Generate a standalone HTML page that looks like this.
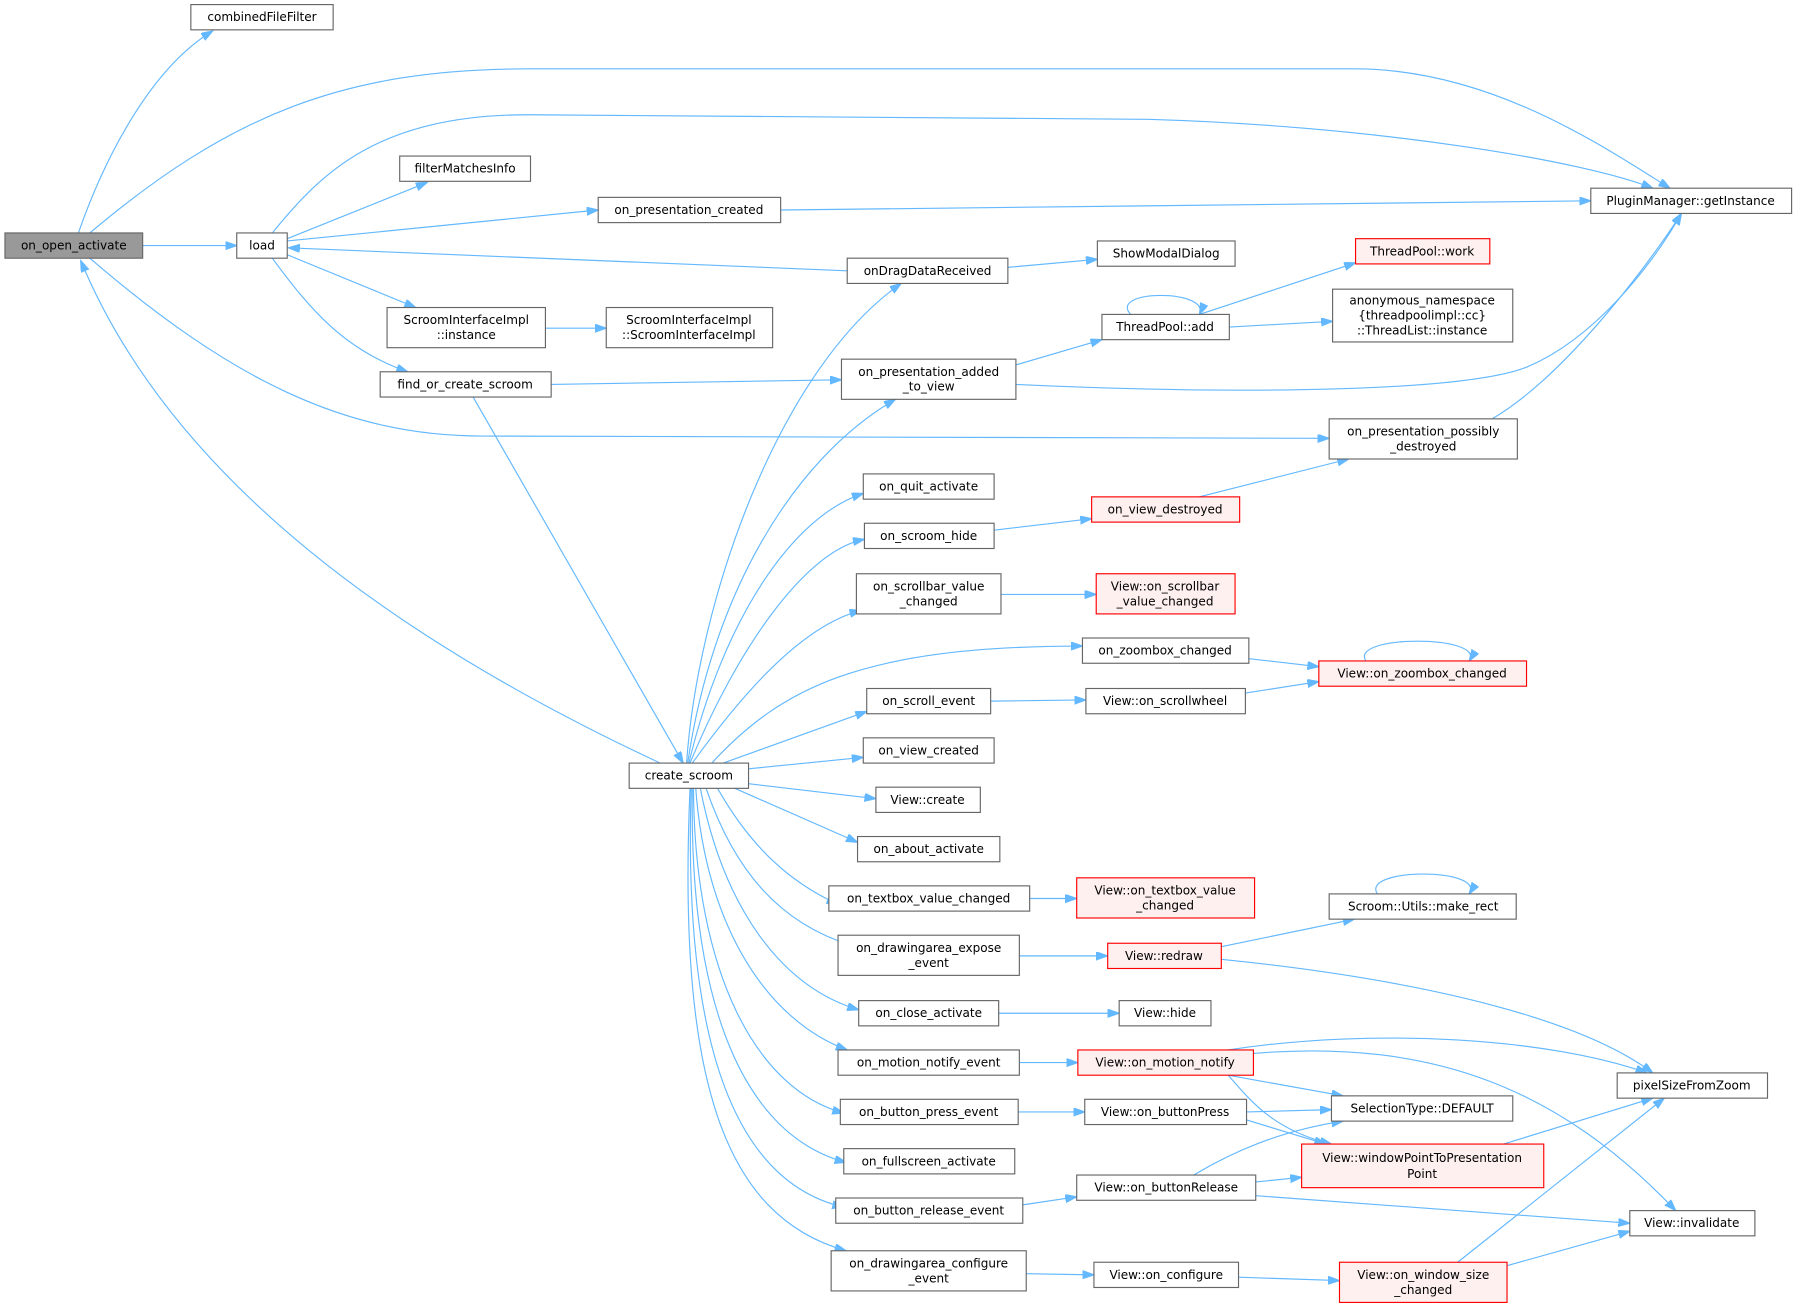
<!DOCTYPE html>
<html><head><meta charset="utf-8"><style>
html,body{margin:0;padding:0;background:#fff;}
svg{display:block;}
text{font-family:"DejaVu Sans","Liberation Sans",sans-serif;font-size:10.5px;fill:#000;text-anchor:middle;dominant-baseline:central;}
.n{fill:#fff;stroke:#666;stroke-width:1;}
.r{fill:#fff0f0;stroke:#f00;stroke-width:1;}
.g{fill:#999;stroke:#666;stroke-width:1;}
path.e{fill:none;stroke:#63b8ff;stroke-width:1;marker-end:url(#a);}
</style></head><body>
<svg width="1800" height="1307" viewBox="0 0 1568 1139" xmlns="http://www.w3.org/2000/svg">
<defs><marker id="a" markerUnits="userSpaceOnUse" markerWidth="11" markerHeight="8" refX="10" refY="3.5" orient="auto"><path d="M0,0 L10,3.5 L0,7 z" fill="#63b8ff" stroke="#63b8ff"/></marker></defs>
<!-- edges -->
<path class="e" d="M68,203 C90,140 130,60 185,27"/>
<path class="e" d="M78,203 C200,100 300,60 460,60 L1180,60 C1300,60 1400,130 1455,164"/>
<path class="e" d="M124,214 L206,214"/>
<path class="e" d="M78,225 C200,330 300,380 420,380 L1158,382"/>
<path class="e" d="M575,665 C350,560 150,420 70,227"/>
<path class="e" d="M237,203 C280,150 330,100 460,100 L1000,104 C1200,110 1380,140 1440,164"/>
<path class="e" d="M250,208 L372,159"/>
<path class="e" d="M250,210 L521,183"/>
<path class="e" d="M738,236 L251,216"/>
<path class="e" d="M250,222 L362,268"/>
<path class="e" d="M237,225 C270,270 300,305 355,324"/>
<path class="e" d="M475,286 L528,286"/>
<path class="e" d="M680,183 L1386,175"/>
<path class="e" d="M480,335 L733,331"/>
<path class="e" d="M412,346 L595,665"/>
<path class="e" d="M878,233 L956,226"/>
<path class="e" d="M885,318 L960,296"/>
<path class="e" d="M885,335 C1100,345 1280,340 1330,320 C1390,295 1440,230 1465,186"/>
<path class="e" d="M1045,274 L1181,229"/>
<path class="e" d="M985,274 C965,252 1055,252 1045,274"/>
<path class="e" d="M1071,285 L1161,280"/>
<path class="e" d="M1300,365 C1360,330 1430,240 1465,186"/>
<path class="e" d="M598,665 C608,520 680,320 785,247"/>
<path class="e" d="M599,665 C620,520 690,400 780,348"/>
<path class="e" d="M600,665 C630,540 690,450 752,430"/>
<path class="e" d="M601,665 C640,570 700,480 753,470"/>
<path class="e" d="M603,665 C650,600 700,545 750,532"/>
<path class="e" d="M620,665 C680,600 750,563 943,563"/>
<path class="e" d="M630,665 L755,620"/>
<path class="e" d="M652,670 L752,660"/>
<path class="e" d="M652,683 L763,696"/>
<path class="e" d="M640,687 L747,734"/>
<path class="e" d="M625,687 C655,740 690,770 730,788"/>
<path class="e" d="M615,687 C640,760 680,805 742,824"/>
<path class="e" d="M610,687 C630,790 680,860 748,880"/>
<path class="e" d="M606,687 C615,810 670,890 738,915"/>
<path class="e" d="M604,687 C605,850 660,950 735,970"/>
<path class="e" d="M603,687 C600,880 650,990 737,1013"/>
<path class="e" d="M602,687 C595,910 640,1030 735,1052"/>
<path class="e" d="M601,687 C590,940 630,1060 737,1090"/>
<path class="e" d="M866,462 L951,452"/>
<path class="e" d="M1045,433 L1175,400"/>
<path class="e" d="M872,518 L955,518"/>
<path class="e" d="M1088,574 L1149,581"/>
<path class="e" d="M1190,576 C1175,553 1295,553 1280,576"/>
<path class="e" d="M863,611 L946,610"/>
<path class="e" d="M1085,604 L1149,594"/>
<path class="e" d="M897,783 L938,783"/>
<path class="e" d="M888,833 L965,833"/>
<path class="e" d="M1064,825 L1180,801"/>
<path class="e" d="M1200,779 C1185,756 1295,756 1280,779"/>
<path class="e" d="M1064,836 C1250,855 1380,890 1440,935"/>
<path class="e" d="M870,883 L975,883"/>
<path class="e" d="M888,926 L939,926"/>
<path class="e" d="M1070,915 C1200,895 1350,905 1435,935"/>
<path class="e" d="M1092,918 C1250,905 1360,950 1460,1055"/>
<path class="e" d="M1070,937 L1170,955"/>
<path class="e" d="M1070,937 C1090,960 1110,985 1160,997"/>
<path class="e" d="M1086,969 L1160,967"/>
<path class="e" d="M1086,976 L1155,997"/>
<path class="e" d="M887,969 L945,969"/>
<path class="e" d="M1310,997 L1440,957"/>
<path class="e" d="M891,1050 L938,1043"/>
<path class="e" d="M1040,1024 C1080,1000 1120,985 1170,977"/>
<path class="e" d="M1094,1030 L1134,1026"/>
<path class="e" d="M1094,1042 L1420,1066"/>
<path class="e" d="M894,1110 L953,1111"/>
<path class="e" d="M1079,1113 L1167,1116"/>
<path class="e" d="M1270,1100 L1450,957"/>
<path class="e" d="M1313,1103 L1420,1073"/>
<!-- nodes -->
<rect class="g" x="4" y="203" width="120" height="22"/><text x="64" y="214">on_open_activate</text>
<rect class="n" x="166" y="4" width="124" height="22"/><text x="228" y="15">combinedFileFilter</text>
<rect class="n" x="206" y="203" width="44" height="22"/><text x="228" y="214">load</text>
<rect class="n" x="348" y="136" width="114" height="22"/><text x="405" y="147">filterMatchesInfo</text>
<rect class="n" x="521" y="172" width="159" height="22"/><text x="600" y="183">on_presentation_created</text>
<rect class="n" x="337" y="268" width="138" height="35"/><text x="406" y="279">ScroomInterfaceImpl</text><text x="406" y="292">::instance</text>
<rect class="n" x="528" y="268" width="145" height="35"/><text x="600" y="279">ScroomInterfaceImpl</text><text x="600" y="292">::ScroomInterfaceImpl</text>
<rect class="n" x="331" y="324" width="149" height="22"/><text x="405" y="335">find_or_create_scroom</text>
<rect class="n" x="1386" y="164" width="175" height="22"/><text x="1473" y="175">PluginManager::getInstance</text>
<rect class="n" x="738" y="225" width="140" height="22"/><text x="808" y="236">onDragDataReceived</text>
<rect class="n" x="956" y="210" width="120" height="22"/><text x="1016" y="221">ShowModalDialog</text>
<rect class="r" x="1181" y="208" width="117" height="22"/><text x="1239" y="219">ThreadPool::work</text>
<rect class="n" x="960" y="274" width="111" height="22"/><text x="1015" y="285">ThreadPool::add</text>
<rect class="n" x="1161" y="252" width="157" height="46"/><text x="1239" y="262">anonymous_namespace</text><text x="1239" y="275">{threadpoolimpl::cc}</text><text x="1239" y="288">::ThreadList::instance</text>
<rect class="n" x="733" y="313" width="152" height="35"/><text x="809" y="324">on_presentation_added</text><text x="809" y="337">_to_view</text>
<rect class="n" x="1158" y="365" width="164" height="35"/><text x="1240" y="376">on_presentation_possibly</text><text x="1240" y="389">_destroyed</text>
<rect class="n" x="752" y="413" width="114" height="22"/><text x="809" y="424">on_quit_activate</text>
<rect class="r" x="951" y="433" width="129" height="22"/><text x="1015" y="444">on_view_destroyed</text>
<rect class="n" x="753" y="456" width="113" height="22"/><text x="809" y="467">on_scroom_hide</text>
<rect class="n" x="746" y="500" width="126" height="35"/><text x="809" y="511">on_scrollbar_value</text><text x="809" y="524">_changed</text>
<rect class="r" x="955" y="500" width="121" height="35"/><text x="1015" y="511">View::on_scrollbar</text><text x="1015" y="524">_value_changed</text>
<rect class="n" x="943" y="556" width="145" height="22"/><text x="1015" y="567">on_zoombox_changed</text>
<rect class="r" x="1149" y="576" width="181" height="22"/><text x="1239" y="587">View::on_zoombox_changed</text>
<rect class="n" x="755" y="600" width="108" height="22"/><text x="809" y="611">on_scroll_event</text>
<rect class="n" x="946" y="600" width="139" height="22"/><text x="1015" y="611">View::on_scrollwheel</text>
<rect class="n" x="752" y="643" width="114" height="22"/><text x="809" y="654">on_view_created</text>
<rect class="n" x="548" y="665" width="104" height="22"/><text x="600" y="676">create_scroom</text>
<rect class="n" x="763" y="686" width="91" height="22"/><text x="808" y="697">View::create</text>
<rect class="n" x="747" y="729" width="124" height="22"/><text x="809" y="740">on_about_activate</text>
<rect class="n" x="722" y="772" width="175" height="22"/><text x="809" y="783">on_textbox_value_changed</text>
<rect class="r" x="938" y="765" width="155" height="35"/><text x="1015" y="776">View::on_textbox_value</text><text x="1015" y="789">_changed</text>
<rect class="n" x="1158" y="779" width="163" height="22"/><text x="1240" y="790">Scroom::Utils::make_rect</text>
<rect class="n" x="730" y="815" width="158" height="35"/><text x="809" y="826">on_drawingarea_expose</text><text x="809" y="839">_event</text>
<rect class="r" x="965" y="822" width="99" height="22"/><text x="1014" y="833">View::redraw</text>
<rect class="n" x="748" y="872" width="122" height="22"/><text x="809" y="883">on_close_activate</text>
<rect class="n" x="975" y="872" width="80" height="22"/><text x="1015" y="883">View::hide</text>
<rect class="n" x="730" y="915" width="158" height="22"/><text x="809" y="926">on_motion_notify_event</text>
<rect class="r" x="939" y="915" width="153" height="22"/><text x="1015" y="926">View::on_motion_notify</text>
<rect class="n" x="1409" y="935" width="131" height="22"/><text x="1474" y="946">pixelSizeFromZoom</text>
<rect class="n" x="732" y="958" width="155" height="22"/><text x="809" y="969">on_button_press_event</text>
<rect class="n" x="945" y="958" width="141" height="22"/><text x="1015" y="969">View::on_buttonPress</text>
<rect class="n" x="1160" y="955" width="158" height="22"/><text x="1239" y="966">SelectionType::DEFAULT</text>
<rect class="n" x="735" y="1001" width="149" height="22"/><text x="809" y="1012">on_fullscreen_activate</text>
<rect class="r" x="1134" y="997" width="211" height="38"/><text x="1239" y="1009">View::windowPointToPresentation</text><text x="1239" y="1023">Point</text>
<rect class="n" x="728" y="1044" width="163" height="22"/><text x="809" y="1055">on_button_release_event</text>
<rect class="n" x="938" y="1024" width="156" height="22"/><text x="1016" y="1035">View::on_buttonRelease</text>
<rect class="n" x="1420" y="1055" width="109" height="22"/><text x="1474" y="1066">View::invalidate</text>
<rect class="n" x="724" y="1090" width="170" height="35"/><text x="809" y="1101">on_drawingarea_configure</text><text x="809" y="1114">_event</text>
<rect class="n" x="953" y="1100" width="126" height="22"/><text x="1016" y="1111">View::on_configure</text>
<rect class="r" x="1167" y="1100" width="146" height="35"/><text x="1240" y="1111">View::on_window_size</text><text x="1240" y="1124">_changed</text>
</svg>
</body></html>
